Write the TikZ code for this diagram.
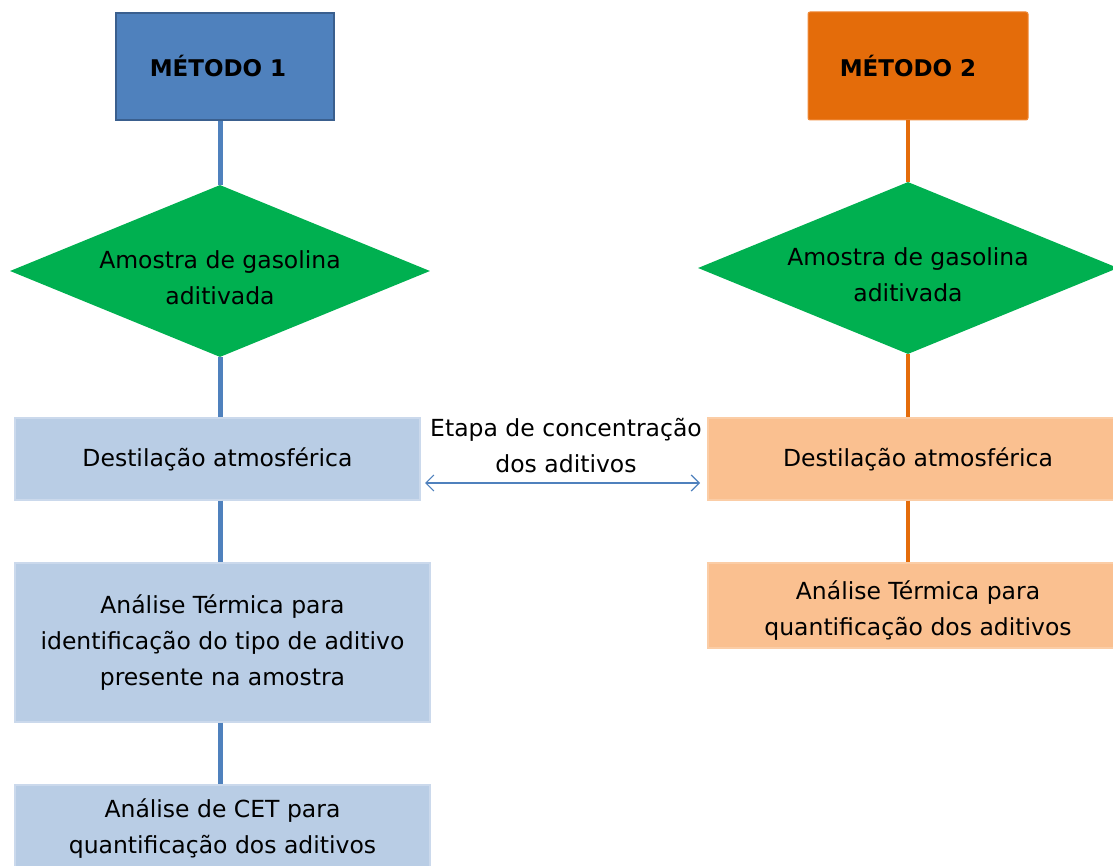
\documentclass[tikz,border=0pt]{standalone}
\usepackage{fontspec}
\setmainfont{DejaVu Sans}
\usetikzlibrary{shapes.geometric,arrows.meta}
\definecolor{hdblue}{HTML}{4F81BD}
\definecolor{hdblueborder}{HTML}{3A5F8E}
\definecolor{hdorange}{HTML}{E46C0A}
\definecolor{hdorangeborder}{HTML}{F08A3A}
\definecolor{lightblue}{HTML}{B9CDE5}
\definecolor{lightblueborder}{HTML}{CBD9EC}
\definecolor{lightorange}{HTML}{FAC090}
\definecolor{lightorangeborder}{HTML}{FBCDA6}
\definecolor{dgreen}{HTML}{00B050}
\tikzset{
  x=1pt, y=-1pt,
  every node/.style={font=\fontsize{23.5}{36}\selectfont, text=black, align=center, inner sep=0pt},
  headone/.style={rectangle, fill=hdblue, draw=hdblueborder, line width=2pt, minimum width=218pt, minimum height=107pt, font=\fontsize{23}{28}\selectfont\bfseries},
  headtwo/.style={rectangle, rounded corners=2pt, fill=hdorange, draw=hdorangeborder, line width=1pt, minimum width=220pt, minimum height=108pt, font=\fontsize{23}{28}\selectfont\bfseries},
  dia/.style={diamond, fill=dgreen, draw=none, shape aspect=2.44, minimum width=420pt, minimum height=172pt},
  bluebox/.style={rectangle, fill=lightblue, draw=lightblueborder, line width=1.2pt},
  orangebox/.style={rectangle, fill=lightorange, draw=lightorangeborder, line width=1.2pt},
  blueline/.style={draw=hdblue, line width=5pt},
  orangeline/.style={draw=hdorange, line width=4pt},
}
\begin{document}
\begin{tikzpicture}
\useasboundingbox (0,0) rectangle (1113,866);
\clip (0,0) rectangle (1113,866);
% left column
\node[headone] (m1) at (225,66.5) {\hspace*{-14pt}MÉTODO 1};
\node[dia] (d1) at (220,271) {};
\node (d1t) at ([yshift=-7pt]d1.center) {Amostra de gasolina\\aditivada};
\node[bluebox, minimum width=405pt, minimum height=82pt] (b1) at (217.5,459) {Destilação atmosférica};
\node[bluebox, minimum width=415pt, minimum height=159pt] (b2) at (222.5,642.5) {Análise Térmica para\\identificação do tipo de aditivo\\presente na amostra};
\node[bluebox, minimum width=415pt, minimum height=82pt] (b3) at (222.5,826) {};
\node (b3t) at ([yshift=-3pt]b3.center) {Análise de CET para\\quantificação dos aditivos};
% right column
\node[headtwo] (m2) at (918,66) {\hspace*{-20pt}MÉTODO 2};
\node[dia] (d2) at (908,268) {};
\node (d2t) at ([yshift=-7pt]d2.center) {Amostra de gasolina\\aditivada};
\node[orangebox, minimum width=420pt, minimum height=82pt] (o1) at (918,459) {Destilação atmosférica};
\node[orangebox, minimum width=420pt, minimum height=85pt] (o2) at (918,605.5) {};
\node (o2t) at ([yshift=-5pt]o2.center) {Análise Térmica para\\quantificação dos aditivos};
% connectors left
\draw[blueline] (m1.south -| d1.north) -- (d1.north);
\draw[blueline] (d1.south) -- (d1.south |- b1.north);
\draw[blueline] (d1.south |- b1.south) -- (d1.south |- b2.north);
\draw[blueline] (d1.south |- b2.south) -- (d1.south |- b3.north);
% connectors right
\draw[orangeline] (m2.south -| d2.north) -- (d2.north);
\draw[orangeline] (d2.south) -- (d2.south |- o1.north);
\draw[orangeline] (d2.south |- o1.south) -- (d2.south |- o2.north);
% concentration arrow
\coordinate (al) at (425,483);
\coordinate (ar) at (700,483);
\draw[draw=hdblue, line width=1.2pt, {Straight Barb[length=8pt,width=16pt]}-{Straight Barb[length=8pt,width=16pt]}] (al) -- (ar);
\node (lbl) at (566,446) {Etapa de concentração\\dos aditivos};
\end{tikzpicture}
\end{document}
